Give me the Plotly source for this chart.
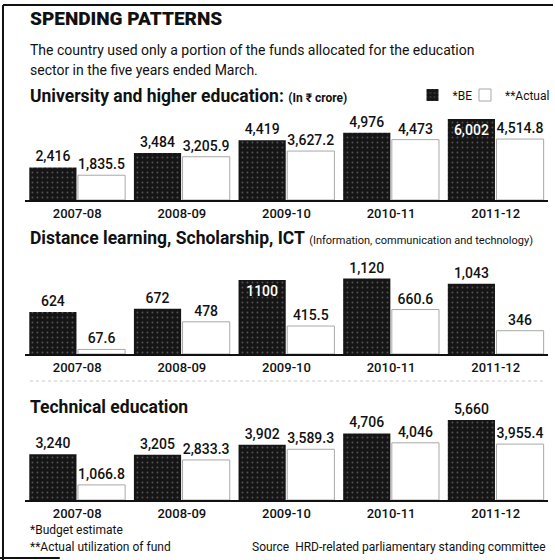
import plotly.graph_objects as go

W, H = 555, 560

years = ["2007-08", "2008-09", "2009-10", "2010-11", "2011-12"]

# University and higher education (Rs crore)
uni_be = [2416, 3484, 4419, 4976, 6002]
uni_actual = [1835.5, 3205.9, 3627.2, 4473, 4514.8]
uni_be_lbl = ["2,416", "3,484", "4,419", "4,976", "6,002"]
uni_actual_lbl = ["1,835.5", "3,205.9", "3,627.2", "4,473", "4,514.8"]

# Distance learning, Scholarship, ICT
dl_be = [624, 672, 1100, 1120, 1043]
dl_actual = [67.6, 478, 415.5, 660.6, 346]
dl_be_lbl = ["624", "672", "1100", "1,120", "1,043"]
dl_actual_lbl = ["67.6", "478", "415.5", "660.6", "346"]

# Technical education
te_be = [3240, 3205, 3902, 4706, 5660]
te_actual = [1066.8, 2833.3, 3589.3, 4046, 3955.4]
te_be_lbl = ["3,240", "3,205", "3,902", "4,706", "5,660"]
te_actual_lbl = ["1,066.8", "2,833.3", "3,589.3", "4,046", "3,955.4"]

FONT = "Roboto, 'Noto Sans', sans-serif"


def py(y):
    return 1 - y / H


def px(x):
    return x / W


panels = [
    (uni_be, uni_actual, uni_be_lbl, uni_actual_lbl, 200, 110, 6669, [4]),
    (dl_be, dl_actual, dl_be_lbl, dl_actual_lbl, 354, 270, 1248, [2]),
    (te_be, te_actual, te_be_lbl, te_actual_lbl, 500, 415, 6014, []),
]

fig = go.Figure()
layout_axes = {}
for i, (be, act, bel, acl, base, top, rmax, inside_idx) in enumerate(panels):
    sfx = "" if i == 0 else str(i + 1)
    pos = ["inside" if k in inside_idx else "outside" for k in range(5)]
    col = ["white" if k in inside_idx else "#111" for k in range(5)]
    fig.add_trace(go.Bar(
        x=years, y=be, name="*BE", text=bel, textposition=pos,
        insidetextanchor="end", constraintext="none", cliponaxis=False,
        textfont=dict(family=FONT, size=14, color=col, weight=500),
        marker=dict(color="#151515", line=dict(width=0),
                    pattern=dict(shape=".", fgcolor="#9a9a9a", size=5,
                                 solidity=0.1, fillmode="overlay")),
        xaxis="x" + sfx, yaxis="y" + sfx, showlegend=(i == 0),
        legend="legend", hoverinfo="skip",
    ))
    fig.add_trace(go.Bar(
        x=years, y=act, name="**Actual", text=acl, textposition="outside",
        constraintext="none", cliponaxis=False,
        textfont=dict(family=FONT, size=14, color="#111", weight=500),
        marker=dict(color="white", line=dict(width=1, color="#a8a8a8")),
        xaxis="x" + sfx, yaxis="y" + sfx, showlegend=(i == 0),
        legend="legend2", hoverinfo="skip",
    ))
    layout_axes["xaxis" + sfx] = dict(
        type="category",
        domain=[px(25), px(550)], anchor="y" + sfx, showline=True,
        linecolor="#111", linewidth=2, ticks="", showgrid=False,
        tickfont=dict(family=FONT, size=13, color="#111", weight=500),
        fixedrange=True,
    )
    layout_axes["yaxis" + sfx] = dict(
        domain=[py(base), py(top)], anchor="x" + sfx, range=[0, rmax],
        visible=False, showgrid=False, fixedrange=True,
    )

ann = []


def text(x, y, s, size, bold=False, anchor="left", color="#111", weight=None):
    f = dict(family=FONT, size=size, color=color)
    if weight:
        f["weight"] = weight
    ann.append(dict(x=px(x), y=py(y), xref="paper", yref="paper",
                    text=("<b>%s</b>" % s) if bold else s, showarrow=False,
                    xanchor=anchor, yanchor="middle", font=f))


text(28, 19, "SPENDING PATTERNS", 19, weight=900)
text(28, 50, "The country used only a portion of the funds allocated for the education", 14)
text(28, 70, "sector in the five years ended March.", 14)
text(28, 96, "<b>University and higher education:</b> <span style='font-size:12px'><b>(In ₹ crore)</b></span>", 17.5)
text(28, 238, "<b>Distance learning, Scholarship, ICT</b> <span style='font-size:11px'>(Information, communication and technology)</span>", 17.5)
text(28, 407, "Technical education", 17.5, bold=True)
text(28, 530, "*Budget estimate", 12)
text(28, 547, "**Actual utilization of fund", 12)
text(550, 547, "Source  HRD-related parliamentary standing committee", 12, anchor="right")

shapes = [
    dict(type="line", xref="paper", yref="paper", x0=px(3), x1=px(3),
         y0=py(5), y1=py(560), line=dict(color="#111", width=2)),
    dict(type="line", xref="paper", yref="paper", x0=px(3), x1=px(555),
         y0=py(5), y1=py(5), line=dict(color="#111", width=2)),
    dict(type="line", xref="paper", yref="paper", x0=px(0), x1=px(60),
         y0=py(558), y1=py(558), line=dict(color="#111", width=2)),
    dict(type="line", xref="paper", yref="paper", x0=px(30), x1=px(545),
         y0=py(381), y1=py(381), line=dict(color="#c8c8c8", width=1, dash="dot")),
]

leg_common = dict(orientation="h", y=py(95), xanchor="left", yanchor="middle",
                  font=dict(family=FONT, size=12, color="#111"),
                  bgcolor="rgba(0,0,0,0)", itemwidth=30)

fig.update_layout(
    width=W, height=H, margin=dict(l=0, r=0, t=0, b=0),
    paper_bgcolor="white", plot_bgcolor="white",
    barmode="group", bargap=0.07, bargroupgap=0.03,
    annotations=ann, shapes=shapes,
    legend=dict(x=px(414), **leg_common),
    legend2=dict(x=px(467), **leg_common),
    **layout_axes,
)

fig.write_html(
    "out.html",
    config={"displayModeBar": False},
    post_script="document.body.style.margin='0';document.body.style.overflow='hidden';",
)
